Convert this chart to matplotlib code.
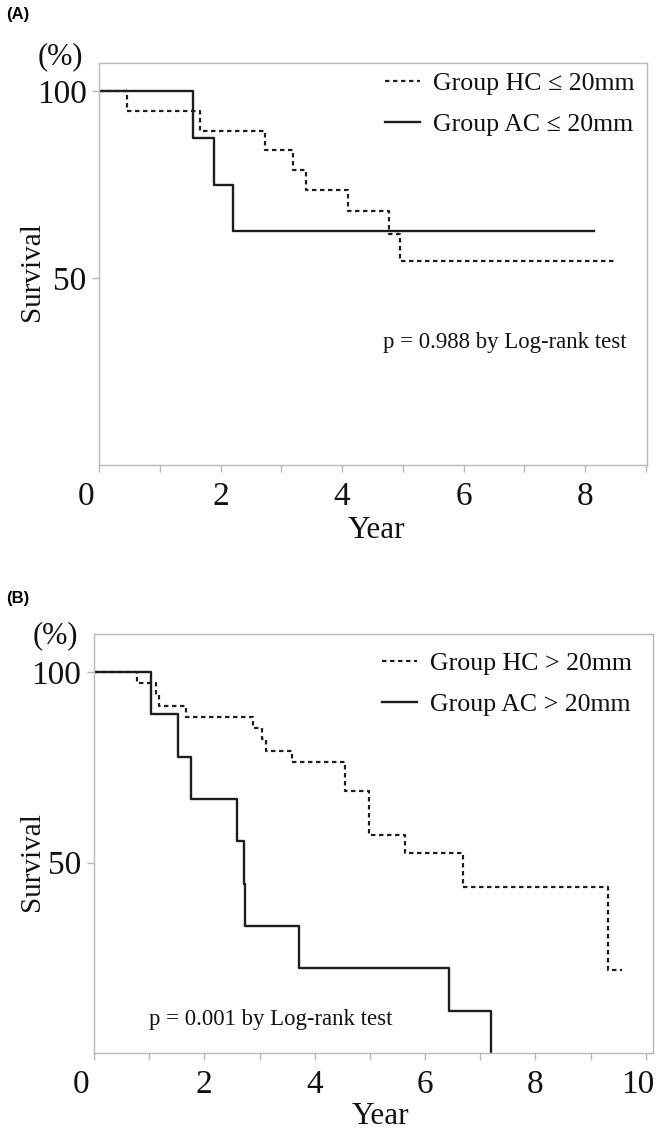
import numpy as np
import matplotlib
matplotlib.use("Agg")
import matplotlib.pyplot as plt
import matplotlib.transforms as mtransforms

plt.rcParams['font.family'] = ['Liberation Serif', 'DejaVu Serif']

# (A) tumour <= 20mm
a_hc_t = [0, 0.46, 1.66, 2.73, 3.19, 3.40, 4.10, 4.78, 4.96, 8.53]
a_hc_s = [100, 94.8, 89.5, 84.3, 79.0, 73.7, 68.1, 61.8, 54.5, 54.5]
a_ac_t = [0, 1.54, 1.90, 2.20, 8.14]
a_ac_s = [100, 87.5, 75.0, 62.5, 62.5]

# (B) tumour > 20mm
b_hc_t = [0, 0.78, 1.12, 1.17, 1.67, 2.88, 3.04, 3.12, 3.58, 4.55, 4.99, 5.64, 6.68, 9.31, 9.56]
b_hc_s = [100, 97.1, 94.1, 91.2, 88.2, 85.3, 82.4, 79.4, 76.5, 68.8, 57.2, 52.4, 43.6, 21.8, 21.8]
b_ac_t = [0, 1.03, 1.52, 1.76, 2.60, 2.71, 2.74, 3.72, 6.44, 7.19]
b_ac_s = [100, 88.9, 77.8, 66.7, 55.6, 44.4, 33.3, 22.2, 11.1, 0]

W, H = 661, 1135
fig = plt.figure(figsize=(W / 100, H / 100), dpi=100)

grey = '#b8b8b8'
ink = '#1e1e1e'


def box(l, t, r, b):
    return [l / W, 1 - b / H, (r - l) / W, (b - t) / H]


panels = [
    dict(rect=box(99, 63, 647, 465), xmax=9.02, ymax=107.6, xt=[0, 2, 4, 6, 8],
         hc=(a_hc_t, a_hc_s), ac=(a_ac_t, a_ac_s),
         labels=['Group HC \u2264 20mm', 'Group AC \u2264 20mm'],
         ptext='p = 0.988 by Log-rank test', pxy=(383, 342),
         leg=(385, 72), tag='(A)', tagy=14, pct=(60, 57), surv_y=272, year=(376, 531)),
    dict(rect=box(94, 634, 653, 1053), xmax=10.13, ymax=110, xt=[0, 2, 4, 6, 8, 10],
         hc=(b_hc_t, b_hc_s), ac=(b_ac_t, b_ac_s),
         labels=['Group HC > 20mm', 'Group AC > 20mm'],
         ptext='p = 0.001 by Log-rank test', pxy=(149, 1020),
         leg=(382, 652), tag='(B)', tagy=598, pct=(55, 636), surv_y=862, year=(380, 1117)),
]

for p in panels:
    ax = fig.add_axes(p['rect'])
    ax.step(p['hc'][0], p['hc'][1], where='post', color=ink, lw=1.6,
            linestyle=(0, (2.0, 1.6)), label=p['labels'][0])
    ax.step(p['ac'][0], p['ac'][1], where='post', color=ink, lw=1.7,
            label=p['labels'][1])
    ax.set_xlim(0, p['xmax'])
    ax.set_ylim(0, p['ymax'])
    ax.set_xticks(p['xt'])
    ax.set_xticks(np.arange(1, p['xmax'], 2), minor=True)
    ax.set_yticks([50, 100])
    for s in ax.spines.values():
        s.set_color(grey)
        s.set_linewidth(1.0)
    ax.tick_params(which='both', color=grey, length=5, width=1.0, labelsize=24,
                   labelcolor='#111111')
    ax.tick_params(axis='x', pad=7)
    ax.tick_params(axis='y', pad=4)
    # end labels sit a little to the left of their ticks in the original
    xl = ax.get_xticklabels()
    xl[0].set_transform(xl[0].get_transform() + mtransforms.ScaledTranslation(-0.13, 0, fig.dpi_scale_trans))
    if p['xt'][-1] == 10:
        xl[-1].set_transform(xl[-1].get_transform() + mtransforms.ScaledTranslation(-0.08, 0, fig.dpi_scale_trans))

    leg = ax.legend(loc='upper left', bbox_to_anchor=(p['leg'][0] / W, 1 - p['leg'][1] / H),
                    bbox_transform=fig.transFigure, frameon=False, fontsize=18.6,
                    handlelength=1.35, handletextpad=0.5, labelspacing=0.7,
                    borderpad=0, borderaxespad=0)
    for t in leg.get_texts():
        t.set_color('#111111')

    fig.text(p['pxy'][0] / W, 1 - p['pxy'][1] / H, p['ptext'], fontsize=16.4,
             ha='left', va='center', color='#111111')
    fig.text(6 / W, 1 - p['tagy'] / H, p['tag'], fontsize=12, fontweight='bold',
             family='Liberation Sans', ha='left', va='center')
    fig.text(p['pct'][0] / W, 1 - p['pct'][1] / H, '(%)', fontsize=22, ha='center',
             va='center', color='#111111')
    fig.text(32 / W, 1 - p['surv_y'] / H, 'Survival', fontsize=21, rotation=90,
             ha='center', va='center', color='#111111')
    fig.text(p['year'][0] / W, 1 - p['year'][1] / H, 'Year', fontsize=22.5,
             ha='center', va='center', color='#111111')

fig.savefig('out.png', dpi=100)
